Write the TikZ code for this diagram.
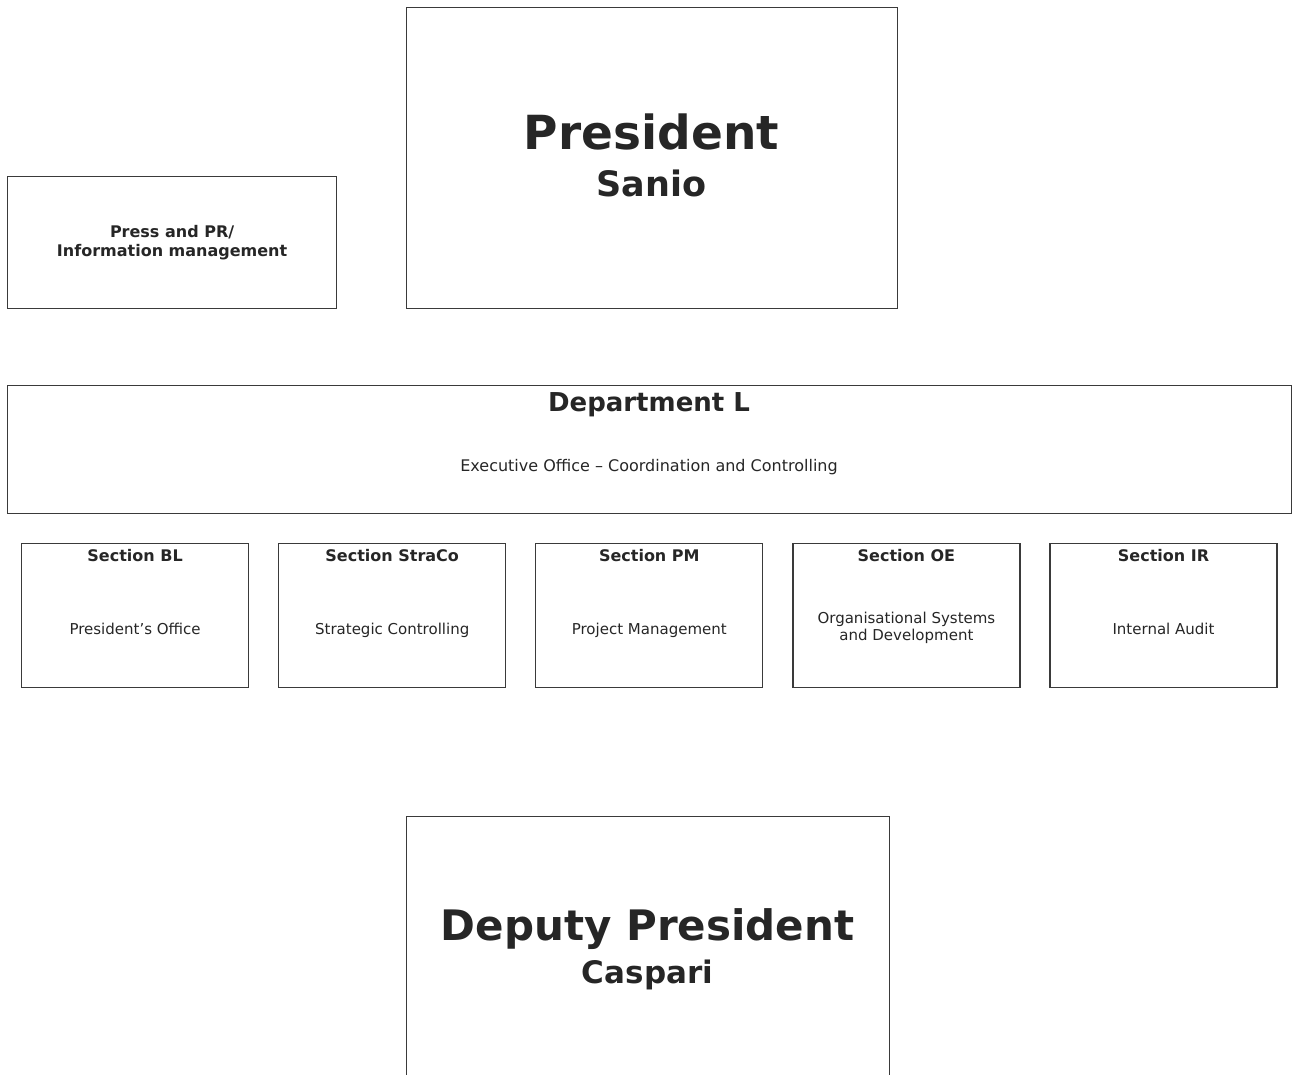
\documentclass[tikz,border=0pt]{standalone}
\usepackage{fontspec}
\setmainfont{DejaVu Sans}
\usepackage{tikz}
\usepackage{xcolor}
\usetikzlibrary{positioning}
\definecolor{OrgLine}{HTML}{3A3A3A}
\definecolor{OrgText}{HTML}{262626}
\newcommand{\orgsize}[2]{\fontsize{#1}{#2}\selectfont}

\begin{document}
\begin{tikzpicture}[
    x=1pt, y=-1pt,
    node distance=28.9pt,
    orgbox/.style={draw=OrgLine, line width=1.2pt, inner sep=0pt,
                   anchor=north west},
    sectionbox/.style={orgbox, minimum width=227pt, minimum height=144pt},
    heading/.style={text=OrgText, inner sep=0pt, anchor=base, font=\bfseries},
    bodytext/.style={text=OrgText, inner sep=0pt, anchor=base, align=center,
                     font=\orgsize{15}{17}}
]
\useasboundingbox (0,0) rectangle (1292,1075);

% top row
\node[orgbox, minimum width=329pt, minimum height=132pt, align=center,
      text=OrgText, font=\bfseries\orgsize{16}{19}] (press) at (7,176)
      {Press and PR/\\Information management};
\node[orgbox, minimum width=491pt, minimum height=301pt] (president) at (406,7) {};
\node[heading, font=\bfseries\orgsize{47}{56}] (presTitle) at (651.5,150) {President};
\node[heading, font=\bfseries\orgsize{35}{42}] (presName) at (651.5,197) {Sanio};

% department
\node[orgbox, minimum width=1284pt, minimum height=128pt] (dept) at (7,385) {};
\node[heading, font=\bfseries\orgsize{26}{31}] (deptTitle) at (649,411.5) {Department L};
\node[bodytext, font=\orgsize{16}{19}] (deptText) at (649,471.5)
      {Executive Office – Coordination and Controlling};

% sections
\node[sectionbox] (secBL) at (21,543) {};
\node[sectionbox, right=of secBL.north east, anchor=north west] (secStraCo) {};
\node[sectionbox, right=of secStraCo.north east, anchor=north west] (secPM) {};
\node[sectionbox, right=of secPM.north east, anchor=north west] (secOE) {};
\node[sectionbox, right=of secOE.north east, anchor=north west] (secIR) {};

\node[heading, font=\bfseries\orgsize{16}{19}] (titleBL) at ([yshift=-18.5pt]secBL.north) {Section BL};
\node[heading, font=\bfseries\orgsize{16}{19}] (titleStraCo) at ([yshift=-18.5pt]secStraCo.north) {Section StraCo};
\node[heading, font=\bfseries\orgsize{16}{19}] (titlePM) at ([yshift=-18.5pt]secPM.north) {Section PM};
\node[heading, font=\bfseries\orgsize{16}{19}] (titleOE) at ([yshift=-18.5pt]secOE.north) {Section OE};
\node[heading, font=\bfseries\orgsize{16}{19}] (titleIR) at ([yshift=-18.5pt]secIR.north) {Section IR};

\node[bodytext] (textBL) at ([yshift=-91pt]secBL.north) {President’s Office};
\node[bodytext] (textStraCo) at ([yshift=-91pt]secStraCo.north) {Strategic Controlling};
\node[bodytext] (textPM) at ([yshift=-91pt]secPM.north) {Project Management};
\node[bodytext, anchor=center] (textOE) at ([yshift=-84.5pt]secOE.north)
      {Organisational Systems\\and Development};
\node[bodytext] (textIR) at ([yshift=-91pt]secIR.north) {Internal Audit};

% deputy
\node[orgbox, minimum width=483pt, minimum height=264pt] (deputy) at (406,816) {};
\node[heading, font=\bfseries\orgsize{42}{50}] (depTitle) at (647.5,940) {Deputy President};
\node[heading, font=\bfseries\orgsize{31}{37}] (depName) at (647.5,983) {Caspari};
\end{tikzpicture}
\end{document}
